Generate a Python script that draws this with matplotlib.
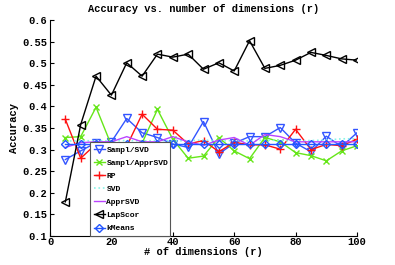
import matplotlib
matplotlib.use("Agg")
import matplotlib.pyplot as plt
from matplotlib.ticker import FuncFormatter

plt.rcParams['font.family'] = ['Liberation Mono', 'DejaVu Sans Mono']
plt.rcParams['font.weight'] = 'bold'

dims = [5, 10, 15, 20, 25, 30, 35, 40, 45, 50, 55, 60, 65, 70, 75, 80, 85, 90, 95, 100]

sampl_svd = [0.277, 0.297, 0.316, 0.318, 0.372, 0.339, 0.328, 0.313, 0.305, 0.365,
             0.290, 0.315, 0.330, 0.330, 0.351, 0.315, 0.295, 0.331, 0.307, 0.339]
sampl_apprsvd = [0.328, 0.330, 0.398, 0.310, 0.308, 0.315, 0.393, 0.324, 0.280, 0.285,
                 0.328, 0.297, 0.279, 0.328, 0.318, 0.293, 0.286, 0.274, 0.297, 0.309]
rp = [0.370, 0.280, 0.313, 0.310, 0.308, 0.382, 0.347, 0.345, 0.313, 0.321,
      0.295, 0.317, 0.311, 0.311, 0.301, 0.347, 0.300, 0.312, 0.309, 0.324]
svd = [0.320, 0.320, 0.321, 0.320, 0.321, 0.320, 0.321, 0.320, 0.321, 0.322,
       0.320, 0.321, 0.320, 0.322, 0.321, 0.320, 0.321, 0.322, 0.325, 0.325]
apprsvd = [0.305, 0.316, 0.318, 0.318, 0.330, 0.318, 0.318, 0.330, 0.318, 0.310,
           0.322, 0.328, 0.310, 0.335, 0.330, 0.318, 0.318, 0.318, 0.318, 0.318]
lapscor = [0.179, 0.358, 0.470, 0.426, 0.501, 0.470, 0.521, 0.514, 0.521, 0.486,
           0.501, 0.482, 0.552, 0.488, 0.495, 0.507, 0.525, 0.518, 0.510, 0.507]
kmeans = [0.313] * 20

fig = plt.figure(figsize=(3.95, 2.65), dpi=100)
ax = fig.add_axes([50/395, 1-236/265, 307/395, 216/265])

lw = 1.0
ms = 5.5
ax.plot(dims, sampl_svd, color='#3355ff', marker='v', mfc='none', ms=ms, lw=lw, label='Sampl/SVD')
ax.plot(dims, sampl_apprsvd, color='#66e619', marker='x', ms=4, lw=lw, label='Sampl/ApprSVD')
ax.plot(dims, rp, color='#ff1111', marker='+', ms=6, lw=lw, label='RP')
ax.plot(dims, svd, color='#88f5e8', ls=':', lw=1.2, label='SVD')
ax.plot(dims, apprsvd, color='#bb44ff', lw=lw, label='ApprSVD')
ax.plot(dims, lapscor, color='black', marker='<', mfc='none', ms=ms, lw=lw, label='LapScor')
ax.plot(dims, kmeans, color='#2255ff', marker='D', mfc='none', ms=4, lw=lw, label='kMeans')

ax.set_xlim(0, 100)
ax.set_ylim(0.1, 0.6)
ax.set_xticks([0, 20, 40, 60, 80, 100])
ax.set_yticks([0.1, 0.15, 0.2, 0.25, 0.3, 0.35, 0.4, 0.45, 0.5, 0.55, 0.6])
ax.yaxis.set_major_formatter(FuncFormatter(lambda v, p: ('%g' % round(v, 2))))
ax.tick_params(direction='in', length=3, labelsize=7.5)
ax.tick_params(axis='x', pad=1)
ax.tick_params(axis='y', pad=2)
ax.spines['top'].set_visible(False)
ax.spines['right'].set_visible(False)

ax.set_title('Accuracy vs. number of dimensions (r)', fontsize=7.5, fontweight='bold', pad=6)
ax.set_xlabel('# of dimensions (r)', fontsize=7.5, fontweight='bold', labelpad=0)
ax.set_ylabel('Accuracy', fontsize=7.5, fontweight='bold', labelpad=2)

leg = ax.legend(loc='lower left', bbox_to_anchor=(0.13, 0.0, 0.26, 0.42), mode='expand',
                fontsize=5.8, frameon=True, fancybox=False, borderaxespad=0,
                handlelength=1.4, handletextpad=0.2, labelspacing=0.68, borderpad=0.45)
leg.get_frame().set_edgecolor('#555555')
leg.get_frame().set_linewidth(0.8)
leg.get_frame().set_alpha(1)

fig.savefig('out.png', dpi=100)
